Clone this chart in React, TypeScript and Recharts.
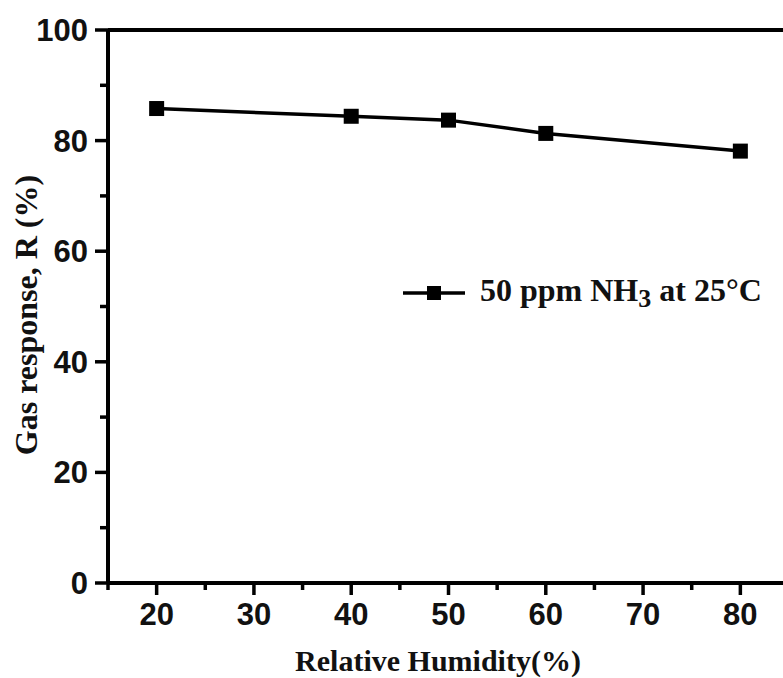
import { Legend, Line, LineChart, ReferenceLine, XAxis, YAxis } from "recharts";

const humidity = [20, 40, 50, 60, 80];
const response = [85.8, 84.4, 83.7, 81.3, 78.1];
const xTicks = [15, 20, 25, 30, 35, 40, 45, 50, 55, 60, 65, 70, 75, 80, 85];
const xLabels = [20, 30, 40, 50, 60, 70, 80];
const yTicks = [0, 10, 20, 30, 40, 50, 60, 70, 80, 90, 100];
const yLabels = [0, 20, 40, 60, 80, 100];

const data = humidity.map((h, i) => ({ rh: h, r: response[i] }));

const SANS = "'Liberation Sans', Arial, sans-serif";
const SERIF = "'Liberation Serif', 'Times New Roman', serif";

function XTick({ x, y, payload }: any) {
  const v = payload.value;
  const major = xLabels.includes(v);
  return (
    <g>
      <line x1={x} x2={x} y1={y} y2={y + (major ? 12 : 7)} stroke="#000" strokeWidth={3.5} />
      {major ? (
        <text x={x} y={y + 42} textAnchor="middle" fontFamily={SANS} fontWeight="bold" fontSize={31} fill="#111">
          {v}
        </text>
      ) : null}
    </g>
  );
}

function YTick({ x, y, payload }: any) {
  const v = payload.value;
  const major = yLabels.includes(v);
  return (
    <g>
      <line x1={x} x2={x - (major ? 13 : 8)} y1={y} y2={y} stroke="#000" strokeWidth={3.5} />
      {major ? (
        <text x={x - 20} y={y + 11} textAnchor="end" fontFamily={SANS} fontWeight="bold" fontSize={31} fill="#111">
          {v}
        </text>
      ) : null}
    </g>
  );
}

function SquareDot({ cx, cy }: any) {
  return <rect x={cx - 7.5} y={cy - 7.5} width={15} height={15} fill="#000" />;
}

function LegendBox() {
  return (
    <div style={{ display: "flex", alignItems: "center", fontFamily: SERIF, fontWeight: "bold", fontSize: 32, color: "#111", whiteSpace: "nowrap" }}>
      <svg width={62} height={20} style={{ marginRight: 15 }}>
        <line x1={0} x2={62} y1={10} y2={10} stroke="#000" strokeWidth={3.5} />
        <rect x={24} y={3} width={14} height={14} fill="#000" />
      </svg>
      <span>
        50 ppm NH<sub style={{ fontSize: 26, verticalAlign: -6 }}>3</sub> at 25°C
      </span>
    </div>
  );
}

export default function App() {
  return (
    <div style={{ position: "fixed", left: 0, top: 0, width: 783, height: 678, overflow: "hidden", background: "#fff" }}>
      <LineChart width={800} height={678} data={data} margin={{ top: 30, right: 11, bottom: 0, left: 0 }}>
        <XAxis
          dataKey="rh"
          type="number"
          domain={[15, 85]}
          ticks={xTicks}
          interval={0}
          height={95}
          tickSize={0}
          tickMargin={0}
          tick={<XTick />}
          axisLine={{ stroke: "#000", strokeWidth: 4 }}
          tickLine={false}
          label={{
            content: () => (
              <text x={438} y={671} textAnchor="middle" fontFamily={SERIF} fontWeight="bold" fontSize={30} fill="#111">
                Relative Humidity(%)
              </text>
            ),
          }}
        />
        <YAxis
          type="number"
          domain={[0, 100]}
          ticks={yTicks}
          interval={0}
          width={108}
          tickSize={0}
          tickMargin={0}
          tick={<YTick />}
          axisLine={{ stroke: "#000", strokeWidth: 4 }}
          tickLine={false}
          label={{
            content: () => (
              <text transform="translate(37,315) rotate(-90)" textAnchor="middle" fontFamily={SERIF} fontWeight="bold" fontSize={32} fill="#111">
                Gas response, R (%)
              </text>
            ),
          }}
        />
        <ReferenceLine y={100} stroke="#000" strokeWidth={4} />
        <Legend
          layout="horizontal"
          verticalAlign="middle"
          align="center"
          wrapperStyle={{ position: "absolute", left: 403, top: 272, width: "auto" }}
          content={() => <LegendBox />}
        />
        <Line
          dataKey="r"
          type="linear"
          stroke="#000"
          strokeWidth={3.5}
          dot={<SquareDot />}
          activeDot={false}
          isAnimationActive={false}
        />
      </LineChart>
    </div>
  );
}
